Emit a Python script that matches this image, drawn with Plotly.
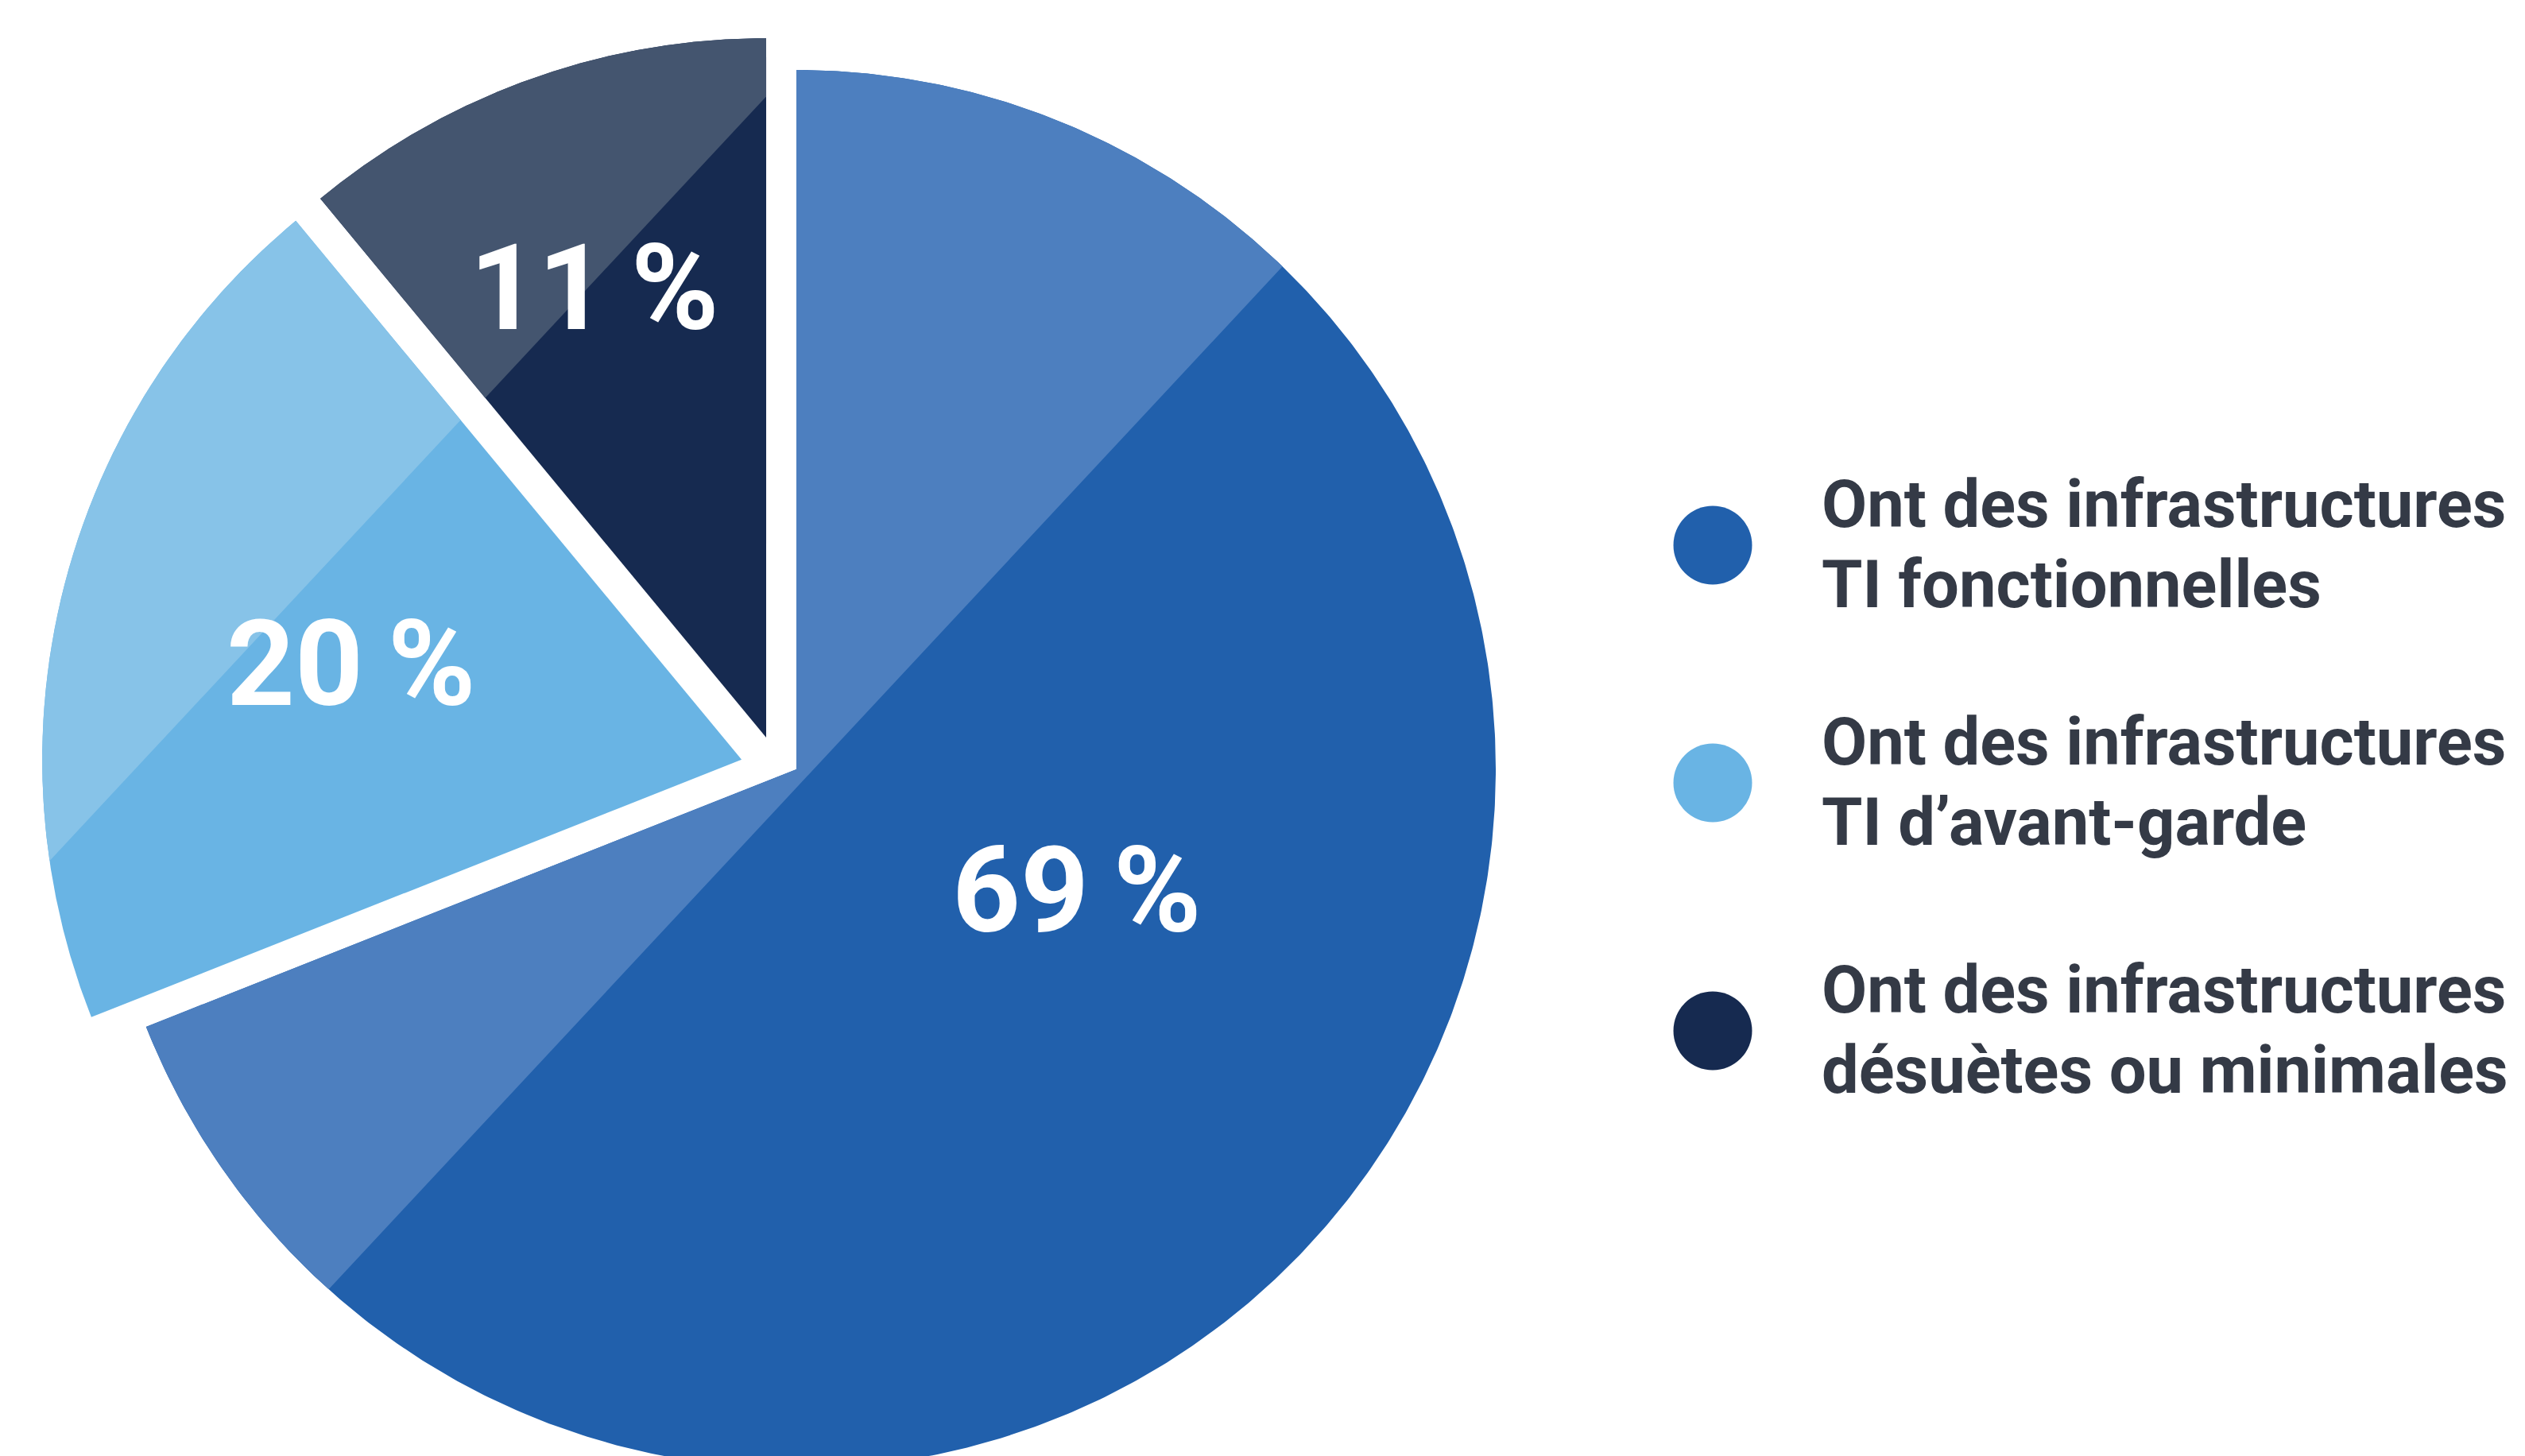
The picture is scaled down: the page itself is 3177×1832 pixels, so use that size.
import numpy as np
import plotly.graph_objects as go

# ---------------- data ----------------
categories = [
    "Ont des infrastructures TI fonctionnelles",
    "Ont des infrastructures TI d’avant-garde",
    "Ont des infrastructures désuètes ou minimales",
]
values = [69, 20, 11]
legend_lines = [
    ["Ont des infrastructures", "TI fonctionnelles"],
    ["Ont des infrastructures", "TI d’avant-garde"],
    ["Ont des infrastructures", "désuètes ou minimales"],
]

# ---------------- style / layout ----------------
W, H = 3177, 1832
CX, CY, R = 1002, 968, 880           # pie centre and radius in pixels
START = 90.0                          # degrees, clockwise
base_colors = ["#2160ac", "#69b4e4", "#162a50"]
light_colors = ["#4d7fbf", "#87c3e8", "#44556f"]
pull_dist = [0.0, 0.0795, 0.0627]     # in radius units
pull_angle = [0.0, 170.0, 133.5]      # degrees
hl_angle = 47.0                       # highlight line direction
hl_offset = [-0.018, 0.625, 0.625]    # highlight line offset (radius units)
label_r = [0.437, 0.575, 0.687]
label_shift = [10.8, 0.7, 1.1]        # degrees from bisector
label_font = dict(family="Roboto", size=150, color="white", weight="bold")
text_color = "#343a46"
legend_font = dict(family="Roboto", size=83, color=text_color, weight="bold")
leg_marker_x = 2155
leg_text_x = 2290
leg_y = [686, 985, 1297]
leg_marker_size = 99
leg_line_dy = (-52, 49)


def ux(px):
    return (px - CX) / R


def uy(py):
    return (CY - py) / R


def wedge(a0, a1, c):
    ang = np.radians(np.linspace(a0, a1, 600))
    xs = np.concatenate([[c[0]], c[0] + np.cos(ang), [c[0]]])
    ys = np.concatenate([[c[1]], c[1] + np.sin(ang), [c[1]]])
    return list(zip(xs, ys))


def clip_halfplane(poly, c, nrm, d):
    def val(p):
        return nrm[0] * (p[0] - c[0]) + nrm[1] * (p[1] - c[1]) - d
    out = []
    n = len(poly)
    for i in range(n):
        p, q = poly[i], poly[(i + 1) % n]
        vp, vq = val(p), val(q)
        if vp >= 0:
            out.append(p)
        if (vp >= 0) != (vq >= 0):
            t = vp / (vp - vq)
            out.append((p[0] + t * (q[0] - p[0]), p[1] + t * (q[1] - p[1])))
    return out


fig = go.Figure()
total = float(sum(values))
annotations = []
a = START
nrm = (np.cos(np.radians(hl_angle + 90)), np.sin(np.radians(hl_angle + 90)))
for i, v in enumerate(values):
    span = 360.0 * v / total
    a0, a1 = a, a - span
    a = a1
    c = (pull_dist[i] * np.cos(np.radians(pull_angle[i])),
         pull_dist[i] * np.sin(np.radians(pull_angle[i])))
    poly = wedge(a0, a1, c)
    xs, ys = zip(*poly)
    fig.add_trace(go.Scatter(x=xs, y=ys, fill="toself", mode="lines",
                             line=dict(width=0, color=base_colors[i]),
                             fillcolor=base_colors[i], hoverinfo="skip",
                             name=categories[i], showlegend=False))
    lp = clip_halfplane(poly, c, nrm, hl_offset[i])
    if lp:
        lx, ly = zip(*lp)
        fig.add_trace(go.Scatter(x=lx, y=ly, fill="toself", mode="lines",
                                 line=dict(width=0, color=light_colors[i]),
                                 fillcolor=light_colors[i], hoverinfo="skip",
                                 showlegend=False))
    mid = np.radians((a0 + a1) / 2 + label_shift[i])
    annotations.append(dict(
        x=c[0] + label_r[i] * np.cos(mid), y=c[1] + label_r[i] * np.sin(mid),
        xref="x", yref="y", text=f"{v}\u2009%", showarrow=False,
        xanchor="center", yanchor="middle", font=label_font))

# custom legend
fig.add_trace(go.Scatter(
    x=[ux(leg_marker_x)] * len(values), y=[uy(y) for y in leg_y],
    mode="markers", hoverinfo="skip", showlegend=False,
    marker=dict(size=leg_marker_size, color=base_colors, line=dict(width=0))))
for i, lines in enumerate(legend_lines):
    for j, txt in enumerate(lines):
        annotations.append(dict(
            x=ux(leg_text_x), y=uy(leg_y[i] + leg_line_dy[j]),
            xref="x", yref="y", text=txt, showarrow=False,
            xanchor="left", yanchor="middle", font=legend_font))

fig.update_layout(
    width=W, height=H,
    margin=dict(l=0, r=0, t=0, b=0),
    paper_bgcolor="white", plot_bgcolor="white",
    xaxis=dict(range=[ux(0), ux(W)], visible=False, fixedrange=True),
    yaxis=dict(range=[uy(H), uy(0)], visible=False, fixedrange=True),
    annotations=annotations,
    showlegend=False,
)

fig.write_html("out.html",
               config={"displayModeBar": False},
               post_script="document.body.style.margin='0';"
                           "document.body.style.overflow='hidden';")
